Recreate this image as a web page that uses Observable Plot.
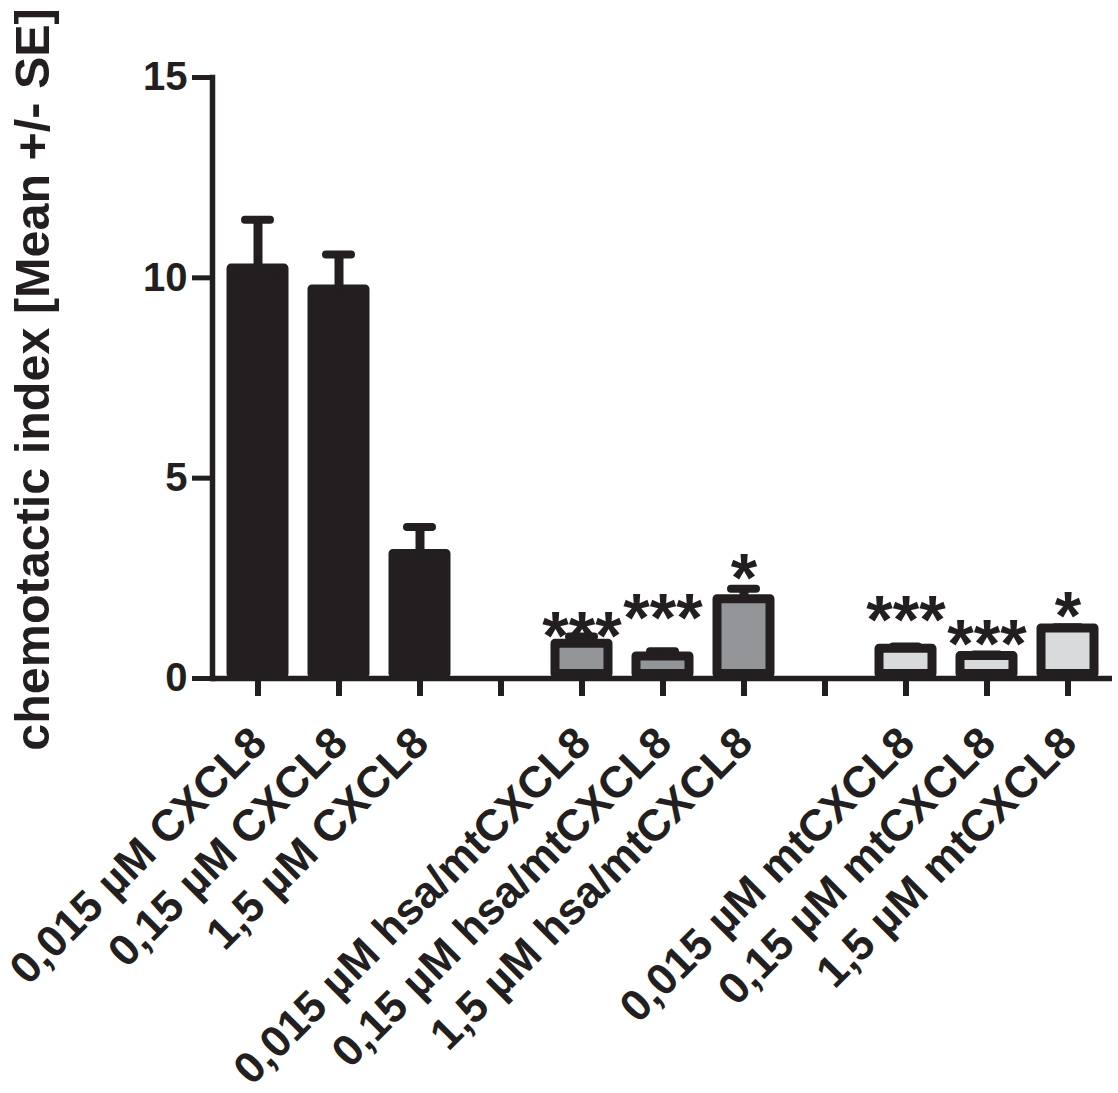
<!DOCTYPE html>
<html>
<head>
<meta charset="utf-8">
<script src="https://cdn.jsdelivr.net/npm/d3@7"></script>
<script src="https://cdn.jsdelivr.net/npm/@observablehq/plot@0.6"></script>
<style>
  html, body { margin: 0; padding: 0; background: #fff; }
  #chart { width: 1118px; height: 1093px; }
</style>
</head>
<body>
<div id="chart"></div>
<script>
// x slots (including two empty gap slots that still get a tick)
const slotKeys = ["c1", "c2", "c3", "gap1", "h1", "h2", "h3", "gap2", "m1", "m2", "m3"];
const slotLabels = [
  "0,015 µM CXCL8", "0,15 µM CXCL8", "1,5 µM CXCL8", "",
  "0,015 µM hsa/mtCXCL8", "0,15 µM hsa/mtCXCL8", "1,5 µM hsa/mtCXCL8", "",
  "0,015 µM mtCXCL8", "0,15 µM mtCXCL8", "1,5 µM mtCXCL8"
];

// bars
const barKeys = ["c1", "c2", "c3", "h1", "h2", "h3", "m1", "m2", "m3"];
const barGroups = ["CXCL8", "CXCL8", "CXCL8", "hsa/mtCXCL8", "hsa/mtCXCL8", "hsa/mtCXCL8", "mtCXCL8", "mtCXCL8", "mtCXCL8"];
const means = [10.23, 9.71, 3.11, 0.87, 0.55, 1.98, 0.74, 0.56, 1.25];
const ses = [1.22, 0.87, 0.67, 0.18, 0.13, 0.26, 0.06, 0.04, 0.03];

// significance marks
const stars = ["", "", "", "***", "***", "*", "***", "***", "*"];
const starY = [null, null, null, 1.47, 1.92, 2.92, 1.87, 1.27, 1.95];

// y ticks
const yTicks = [0, 5, 10, 15];
const yLabel = "chemotactic index [Mean +/- SE]";

const groupDomain = ["CXCL8", "hsa/mtCXCL8", "mtCXCL8"];
const groupColors = ["#231f20", "#939598", "#d9dadb"];
const ink = "#231f20";

const bars = barKeys.map((k, i) => ({key: k, group: barGroups[i], mean: means[i], se: ses[i], top: means[i] + ses[i]}));
const starData = barKeys.map((k, i) => ({key: k, text: stars[i], y: starY[i]})).filter(d => d.text);
const labelData = slotKeys.map((k, i) => ({key: k, label: slotLabels[i]})).filter(d => d.label);

const chart = Plot.plot({
  width: 1118,
  height: 1093,
  marginLeft: 212,
  marginRight: 6,
  marginTop: 77,
  marginBottom: 415,
  style: {fontFamily: "'Liberation Sans', Arial, sans-serif", fontWeight: "bold", color: ink, background: "#fff"},
  x: {type: "band", domain: slotKeys, padding: 0},
  y: {domain: [0, 15]},
  color: {domain: groupDomain, range: groupColors},
  marks: [
    Plot.barY(bars, {
      x: "key", y: "mean", fill: "group",
      stroke: ink, strokeWidth: 9, strokeLinejoin: "round",
      insetLeft: 14, insetRight: 14, insetBottom: 4.5
    }),
    Plot.ruleX(bars, {x: "key", y1: "mean", y2: "top", stroke: ink, strokeWidth: 9}),
    Plot.tickY(bars, {x: "key", y: "top", stroke: ink, strokeWidth: 8, strokeLinecap: "round", insetLeft: 28, insetRight: 28}),
    Plot.text(starData, {
      x: "key", y: "y", text: "text",
      fontSize: 68, fontWeight: "bold", fill: ink,
      lineAnchor: "bottom", dy: 39
    }),
    Plot.axisY({
      ticks: yTicks, tickSize: 20, tickPadding: 5, strokeWidth: 5,
      stroke: ink, fill: ink, fontSize: 40, fontWeight: "bold", label: null
    }),
    Plot.axisX({
      tickSize: 18, strokeWidth: 6, stroke: ink, tickFormat: () => "", label: null
    }),
    Plot.frame({anchor: "left", stroke: ink, strokeWidth: 5.5}),
    Plot.ruleY([0], {stroke: ink, strokeWidth: 5.5}),
    Plot.text(labelData, {
      x: "key", text: "label", frameAnchor: "bottom",
      rotate: -45, textAnchor: "end", lineAnchor: "bottom",
      dx: 11, dy: 67, fontSize: 44, fontWeight: "bold", fill: ink
    }),
    Plot.text([yLabel], {
      text: d => d, frameAnchor: "left", rotate: -90,
      textAnchor: "middle", lineAnchor: "bottom",
      dx: -164, dy: 1.5, fontSize: 48.5, fontWeight: "bold", fill: ink
    })
  ]
});
document.getElementById("chart").appendChild(chart);
</script>
</body>
</html>
